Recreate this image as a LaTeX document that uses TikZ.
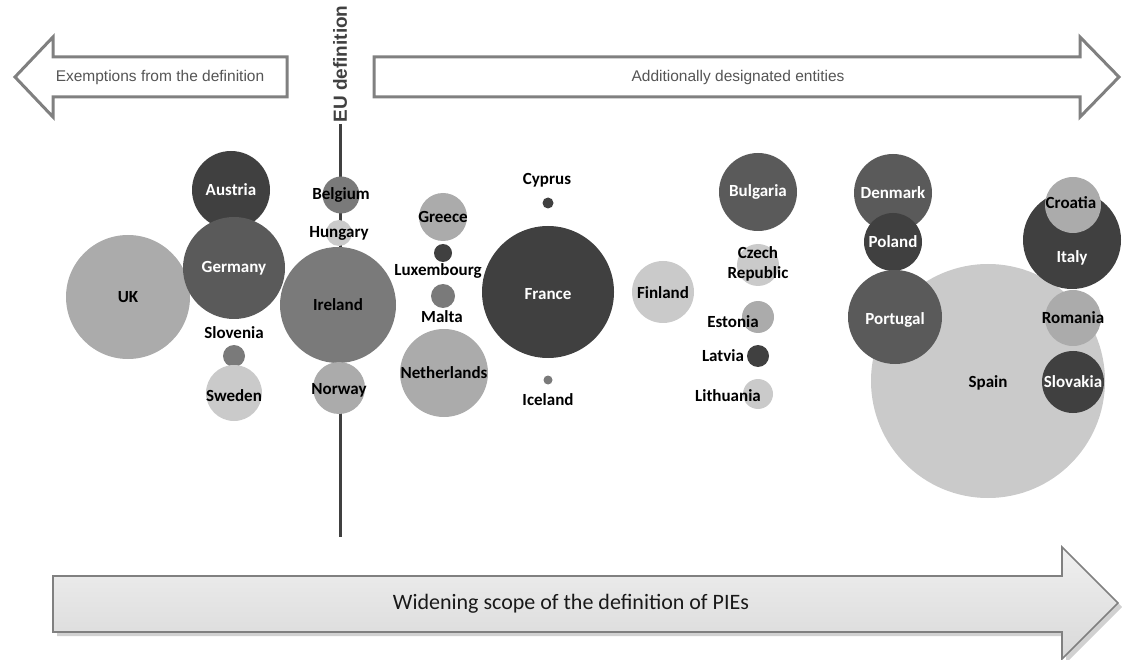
\documentclass[tikz,border=0pt]{standalone}
\usepackage{fontspec}
\setmainfont{Carlito}
\newfontfamily\arialf{Liberation Sans}
\usetikzlibrary{shadows}
\definecolor{cD}{HTML}{404040}
\definecolor{cM}{HTML}{5A5A5A}
\definecolor{cMid}{HTML}{7A7A7A}
\definecolor{cL}{HTML}{ABABAB}
\definecolor{cXL}{HTML}{CACACA}
\definecolor{outl}{HTML}{808080}
\definecolor{toptext}{HTML}{555555}
\tikzset{
  bub/.style={circle, inner sep=0pt, draw=none},
  lbl/.style={font=\fontsize{17}{20}\selectfont\bfseries, text=black, inner sep=0pt, align=center},
  wlbl/.style={lbl, text=white},
  toparrow/.style={draw=outl, line width=3pt, fill=white, line join=miter},
  toplbl/.style={font=\arialf\fontsize{15.5}{18}\selectfont, text=toptext},
}
\begin{document}
\begin{tikzpicture}[x=1pt,y=-1pt]
\useasboundingbox (0,0) rectangle (1122,660);

% top arrows
\draw[toparrow] (15,77) -- (53,37) -- (53,57) -- (287,57) -- (287,97) -- (53,97) -- (53,117) -- cycle;
\node[toplbl] (exempt) at (160,77) {Exemptions from the definition};
\draw[toparrow] (374,57) -- (1080,57) -- (1080,37) -- (1119,77) -- (1080,117) -- (1080,97) -- (374,97) -- cycle;
\node[toplbl] (addl) at (738,77) {Additionally designated entities};

% EU definition line
\node[font=\arialf\bfseries\fontsize{19}{22}\selectfont, text=cD, rotate=90, inner sep=1pt] (eu) at (340,64) {EU definition};
\coordinate (eubot) at (340,537);
\draw[cD, line width=3pt] (eu.west) -- (eubot);

% left group
\node[bub, fill=cL, minimum size=124] (uk) at (128,297) {};
\node[bub, fill=cD, minimum size=78] (austria) at (231,190) {};
\node[bub, fill=cM, minimum size=102] (germany) at (234,268) {};
\node[bub, fill=cMid, minimum size=22] (slovenia) at (234,356) {};
\node[bub, fill=cXL, minimum size=56] (sweden) at (234,393) {};
\node[lbl] at (uk) {UK};
\node[wlbl] at (austria) {Austria};
\node[wlbl] at (germany) {Germany};
\node[lbl] (slovenialbl) at (234,333) {Slovenia};
\node[lbl] at (234,396) {Sweden};

% on the EU line
\node[bub, fill=cMid, minimum size=37] (belgium) at (341,195) {};
\node[bub, fill=cXL, minimum size=26] (hungary) at (339,233) {};
\node[bub, fill=cMid, minimum size=116] (ireland) at (338,305) {};
\node[bub, fill=cL, minimum size=52] (norway) at (339,388) {};
\node[lbl] at (belgium) {Belgium};
\node[lbl] at (hungary) {Hungary};
\node[lbl] at (ireland) {Ireland};
\node[lbl] at (339,390) {Norway};

% middle group
\node[bub, fill=cL, minimum size=48] (greece) at (443,217) {};
\node[bub, fill=cD, minimum size=18] (luxembourg) at (443,253) {};
\node[bub, fill=cMid, minimum size=24] (malta) at (443,296) {};
\node[bub, fill=cL, minimum size=88] (netherlands) at (444,373) {};
\node[lbl] at (greece) {Greece};
\node[lbl] (luxlbl) at (438,271) {Luxembourg};
\node[lbl] (maltalbl) at (442,317) {Malta};
\node[lbl] at (netherlands) {Netherlands};

\node[bub, fill=cD, minimum size=132] (france) at (548,292) {};
\node[bub, fill=cD, minimum size=11] (cyprus) at (548,203) {};
\node[bub, fill=cMid, minimum size=9] (iceland) at (548,380) {};
\node[wlbl] at (548,294) {France};
\node[lbl] (cypruslbl) at (547,180) {Cyprus};
\node[lbl] (icelandlbl) at (548,400) {Iceland};

\node[bub, fill=cXL, minimum size=62] (finland) at (663,292) {};
\node[lbl] at (663,293) {Finland};

% baltic / central group
\node[bub, fill=cM, minimum size=78] (bulgaria) at (758,192) {};
\node[bub, fill=cXL, minimum size=42] (czech) at (758,265) {};
\node[bub, fill=cL, minimum size=32] (estonia) at (758,317) {};
\node[bub, fill=cD, minimum size=22] (latvia) at (758,356) {};
\node[bub, fill=cXL, minimum size=30] (lithuania) at (758,394) {};
\node[wlbl] at (bulgaria) {Bulgaria};
\node[lbl] at (758,264) {Czech\\Republic};
\node[lbl] (estonialbl) at (733,322) {Estonia};
\node[lbl] (latvialbl) at (723,356) {Latvia};
\node[lbl] (lithuanialbl) at (728,396) {Lithuania};

% right group
\node[bub, fill=cXL, minimum size=234] (spain) at (988,381) {};
\node[bub, fill=cM, minimum size=78] (denmark) at (893,193) {};
\node[bub, fill=cD, minimum size=58] (poland) at (893,242) {};
\node[bub, fill=cM, minimum size=94] (portugal) at (895,317) {};
\node[bub, fill=cL, minimum size=56] (romania) at (1073,318) {};
\node[bub, fill=cD, minimum size=98] (italy) at (1072,240) {};
\node[bub, fill=cL, minimum size=56] (croatia) at (1073,205) {};
\node[bub, fill=cD, minimum size=62] (slovakia) at (1073,382) {};
\node[lbl] at (988,383) {Spain};
\node[wlbl] at (denmark) {Denmark};
\node[wlbl] at (poland) {Poland};
\node[wlbl] at (895,320) {Portugal};
\node[lbl] at (romania) {Romania};
\node[wlbl] at (1072,258) {Italy};
\node[lbl] at (1071,203) {Croatia};
\node[wlbl] at (slovakia) {Slovakia};

% bottom arrow
\fill[black, opacity=0.18] (57,580) -- (1066,580) -- (1066,551) -- (1122,607) -- (1066,663) -- (1066,636) -- (57,636) -- cycle;
\path[draw=outl, line width=1.6pt, top color=gray!12, bottom color=gray!30, line join=miter] (53,576) -- (1062,576) -- (1062,547) -- (1118,603) -- (1062,659) -- (1062,632) -- (53,632) -- cycle;
\node[font=\fontsize{22}{26}\selectfont, text=black!90] (scope) at (571,604) {Widening scope of the definition of PIEs};
\end{tikzpicture}
\end{document}
